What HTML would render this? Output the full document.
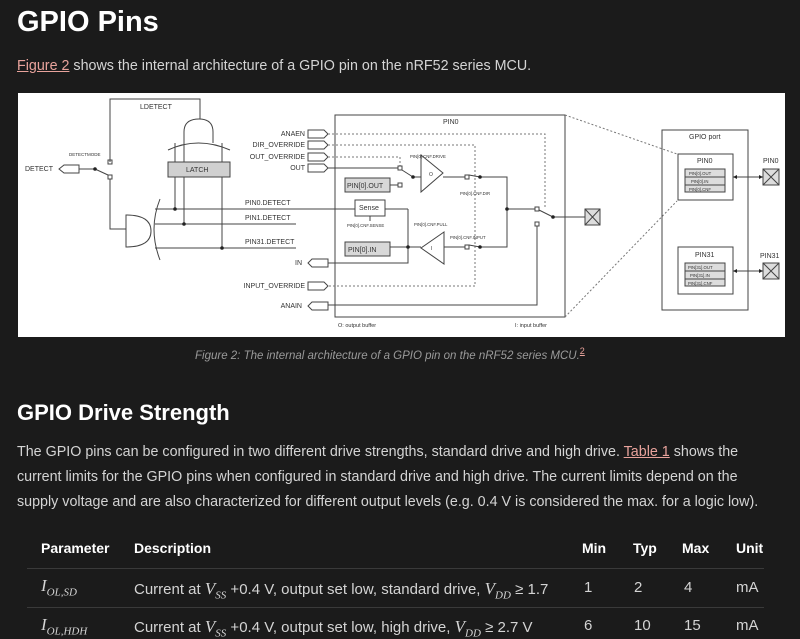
<!DOCTYPE html>
<html><head><meta charset="utf-8">
<style>
html,body{margin:0;padding:0;background:#1b1b1b;width:800px;height:627px;overflow:hidden;font-family:"Liberation Sans",sans-serif;color:#d6d6d6}
.a{position:absolute;white-space:nowrap}
h1{position:absolute;left:17px;top:6px;margin:0;font-size:29px;font-weight:600;color:#fff}
h2{position:absolute;left:17px;top:400px;margin:0;font-size:22px;font-weight:600;color:#fff}
.p{font-size:14.3px;color:#d4d4d4}
a{color:#e9a39c;text-decoration:underline}
.cap{font-size:11.5px;font-style:italic;color:#9a9a9a}
.th{font-size:14px;font-weight:bold;color:#fff;top:540px}
.td{font-size:15px;color:#d4d4d4;top:579px}
.m{font-family:"Liberation Serif",serif;font-style:italic;font-size:17px}
svg text{font-family:"Liberation Sans",sans-serif;fill:#333}
</style></head><body>
<h1>GPIO Pins</h1>
<div class="a p" style="left:17px;top:58px"><a>Figure 2</a> shows the internal architecture of a GPIO pin on the nRF52 series MCU.</div>

<svg class="a" style="left:18px;top:93px" width="767" height="244" viewBox="18 93 767 244">
<rect x="18" y="93" width="767" height="244" fill="#fff"/>
<g stroke="#444" stroke-width="1" fill="none">
<polyline points="110,162 110,99 200,99 200,119"/>
<path d="M184,143 L184,132 Q184,119 199,119 Q213,119 213,132 L213,143"/>
<path d="M168,150 Q198,136 230,150"/>
<rect x="168" y="162" width="62" height="15" fill="#d0d0d0"/>
<line x1="175" y1="143" x2="175" y2="162"/><line x1="184" y1="143" x2="184" y2="162"/><line x1="222" y1="143" x2="222" y2="162"/>
<line x1="175" y1="177" x2="175" y2="209"/><line x1="184" y1="177" x2="184" y2="224"/><line x1="222" y1="177" x2="222" y2="248"/>
<path d="M59,169 L64,165 L79,165 L79,173 L64,173 Z"/>
<line x1="79" y1="169" x2="95" y2="169"/><line x1="95" y1="169" x2="108" y2="175"/>
<rect x="108" y="160" width="4" height="4"/><rect x="108" y="175" width="4" height="4"/>
<polyline points="110,179 110,229 126,229"/>
<path d="M126,215 Q151,215 151,231 Q151,247 126,247 Z"/>
<path d="M160,199 Q148,229 160,260"/>
<line x1="155" y1="209" x2="408" y2="209"/><line x1="155" y1="224" x2="296" y2="224"/><line x1="155" y1="248" x2="296" y2="248"/>
<path d="M308,130 L324,130 L328,134 L324,138 L308,138 Z"/>
<path d="M308,141 L324,141 L328,145 L324,149 L308,149 Z"/>
<path d="M308,153 L324,153 L328,157 L324,161 L308,161 Z"/>
<path d="M308,164 L324,164 L328,168 L324,172 L308,172 Z"/>
<path d="M328,259 L312,259 L308,263 L312,267 L328,267 Z"/>
<path d="M308,282 L324,282 L328,286 L324,290 L308,290 Z"/>
<path d="M328,302 L312,302 L308,306 L312,310 L328,310 Z"/>
<rect x="335" y="115" width="230" height="202"/>
<g stroke-dasharray="2,2" stroke="#777">
<polyline points="328,134 545,134 545,209"/>
<polyline points="328,145 475,145 475,286 328,286"/>
<polyline points="328,157 400,157 400,166"/>
<line x1="565" y1="115" x2="677" y2="154"/><line x1="565" y1="317" x2="677" y2="201"/>
</g>
<line x1="328" y1="168" x2="398" y2="168"/>
<rect x="398" y="166" width="4" height="4"/><line x1="402" y1="170" x2="413" y2="177"/>
<line x1="413" y1="177" x2="421" y2="177"/>
<path d="M421,155 L443,173 L421,192 Z"/>
<line x1="443" y1="177" x2="465" y2="177"/><rect x="465" y="175" width="4" height="4"/>
<line x1="469" y1="175" x2="480" y2="177"/>
<polyline points="480,177 507,177 507,247 480,247"/>
<line x1="469" y1="245" x2="480" y2="247"/><rect x="465" y="245" width="4" height="4"/>
<line x1="465" y1="247" x2="444" y2="247"/>
<path d="M444,232 L421,248 L444,264 Z"/>
<line x1="421" y1="247" x2="390" y2="247"/>
<polyline points="328,263 408,263 408,209"/>
<line x1="507" y1="209" x2="535" y2="209"/><rect x="535" y="207" width="4" height="4"/>
<line x1="539" y1="210" x2="553" y2="217"/><line x1="553" y1="217" x2="585" y2="217"/>
<rect x="535" y="222" width="4" height="4"/>
<polyline points="537,226 537,305 328,305"/>
<rect x="585" y="209" width="15" height="16" fill="#ddd"/><path d="M585,209 L600,225 M600,209 L585,225"/>
<rect x="345" y="178" width="45" height="14" fill="#d8d8d8"/>
<line x1="390" y1="185" x2="398" y2="185"/><rect x="398" y="183" width="4" height="4"/>
<rect x="355" y="200" width="30" height="16" fill="#fff"/>
<line x1="370" y1="216" x2="370" y2="221"/>
<rect x="345" y="242" width="45" height="14" fill="#d8d8d8"/>
<rect x="662" y="130" width="86" height="180"/>
<rect x="678" y="154" width="55" height="46"/>
<rect x="685" y="169" width="40" height="23" fill="#ddd"/><line x1="685" y1="177" x2="725" y2="177"/><line x1="685" y1="185" x2="725" y2="185"/>
<rect x="678" y="247" width="55" height="47"/>
<rect x="685" y="263" width="40" height="23" fill="#ddd"/><line x1="685" y1="271" x2="725" y2="271"/><line x1="685" y1="279" x2="725" y2="279"/>
<line x1="733" y1="177" x2="763" y2="177"/><line x1="733" y1="271" x2="763" y2="271"/>
<rect x="763" y="169" width="16" height="16" fill="#ddd"/><path d="M763,169 L779,185 M779,169 L763,185"/>
<rect x="763" y="263" width="16" height="16" fill="#ddd"/><path d="M763,263 L779,279 M779,263 L763,279"/>
</g>
<g fill="#222">
<circle cx="95" cy="169" r="1.8"/><circle cx="175" cy="209" r="1.8"/><circle cx="184" cy="224" r="1.8"/><circle cx="222" cy="248" r="1.8"/>
<circle cx="413" cy="177" r="1.8"/><circle cx="480" cy="177" r="1.8"/><circle cx="480" cy="247" r="1.8"/><circle cx="507" cy="209" r="1.8"/>
<circle cx="553" cy="217" r="1.8"/><circle cx="408" cy="247" r="1.8"/>
<path d="M733,177 l4,-2 v4 Z M763,177 l-4,-2 v4 Z M733,271 l4,-2 v4 Z M763,271 l-4,-2 v4 Z"/>
</g>
<g font-size="7">
<text x="140" y="109">LDETECT</text>
<text x="69" y="156" font-size="4.5">DETECTMODE</text>
<text x="25" y="171">DETECT</text>
<text x="186" y="172">LATCH</text>
<text x="245" y="205">PIN0.DETECT</text>
<text x="245" y="220">PIN1.DETECT</text>
<text x="245" y="244">PIN31.DETECT</text>
<text x="305" y="136" text-anchor="end">ANAEN</text>
<text x="305" y="147" text-anchor="end">DIR_OVERRIDE</text>
<text x="305" y="159" text-anchor="end">OUT_OVERRIDE</text>
<text x="305" y="170" text-anchor="end">OUT</text>
<text x="302" y="265" text-anchor="end">IN</text>
<text x="305" y="288" text-anchor="end">INPUT_OVERRIDE</text>
<text x="302" y="308" text-anchor="end">ANAIN</text>
<text x="443" y="124">PIN0</text>
<text x="347" y="188">PIN[0].OUT</text>
<text x="348" y="252">PIN[0].IN</text>
<text x="359" y="210">Sense</text>
<text x="429" y="176" font-size="5">O</text>
<text x="431" y="250" font-size="5">I</text>
<text x="338" y="327" font-size="5.5">O: output buffer</text>
<text x="515" y="327" font-size="5.5">I: input buffer</text>
<text x="689" y="139">GPIO port</text>
<text x="697" y="163">PIN0</text>
<text x="695" y="257">PIN31</text>
<text x="763" y="163">PIN0</text>
<text x="760" y="258">PIN31</text>
</g>
<g font-size="4.3">
<text x="410" y="158">PIN[0].CNF.DRIVE</text>
<text x="460" y="195">PIN[0].CNF.DIR</text>
<text x="347" y="227">PIN[0].CNF.SENSE</text>
<text x="414" y="226">PIN[0].CNF.PULL</text>
<text x="450" y="239">PIN[0].CNF.INPUT</text>
<text x="689" y="175">PIN[0].OUT</text><text x="691" y="183">PIN[0].IN</text><text x="689" y="191">PIN[0].CNF</text>
<text x="688" y="269">PIN[31].OUT</text><text x="690" y="277">PIN[31].IN</text><text x="688" y="285">PIN[31].CNF</text>
</g>
</svg>

<div class="a cap" style="left:195px;top:346px">Figure 2: The internal architecture of a GPIO pin on the nRF52 series MCU.<a style="font-size:9px;vertical-align:super;font-style:normal">2</a></div>

<h2>GPIO Drive Strength</h2>
<div class="a p" style="left:17px;top:444px">The GPIO pins can be configured in two different drive strengths, standard drive and high drive. <a>Table 1</a> shows the</div>
<div class="a p" style="left:17px;top:469px">current limits for the GPIO pins when configured in standard drive and high drive. The current limits depend on the</div>
<div class="a p" style="left:17px;top:494px">supply voltage and are also characterized for different output levels (e.g. 0.4 V is considered the max. for a logic low).</div>

<div class="a th" style="left:41px">Parameter</div>
<div class="a th" style="left:134px">Description</div>
<div class="a th" style="left:582px">Min</div>
<div class="a th" style="left:633px">Typ</div>
<div class="a th" style="left:682px">Max</div>
<div class="a th" style="left:736px">Unit</div>
<div class="a" style="left:27px;top:568px;width:737px;height:1px;background:#3a3a3a"></div>
<div class="a td" style="left:41px;top:576px"><span class="m">I<sub style="font-size:11px">OL,SD</sub></span></div>
<div class="a td" style="left:134px">Current at <span class="m">V<sub style="font-size:11px">SS</sub></span> +0.4 V, output set low, standard drive, <span class="m">V<sub style="font-size:11px">DD</sub></span> ≥ 1.7</div>
<div class="a td" style="left:584px">1</div>
<div class="a td" style="left:634px">2</div>
<div class="a td" style="left:684px">4</div>
<div class="a td" style="left:736px">mA</div>
<div class="a" style="left:27px;top:607px;width:737px;height:1px;background:#3a3a3a"></div>
<div class="a td" style="left:41px;top:615px"><span class="m">I<sub style="font-size:11px">OL,HDH</sub></span></div>
<div class="a td" style="left:134px;top:617px">Current at <span class="m">V<sub style="font-size:11px">SS</sub></span> +0.4 V, output set low, high drive, <span class="m">V<sub style="font-size:11px">DD</sub></span> ≥ 2.7 V</div>
<div class="a td" style="left:584px;top:617px">6</div>
<div class="a td" style="left:634px;top:617px">10</div>
<div class="a td" style="left:684px;top:617px">15</div>
<div class="a td" style="left:736px;top:617px">mA</div>
</body></html>
